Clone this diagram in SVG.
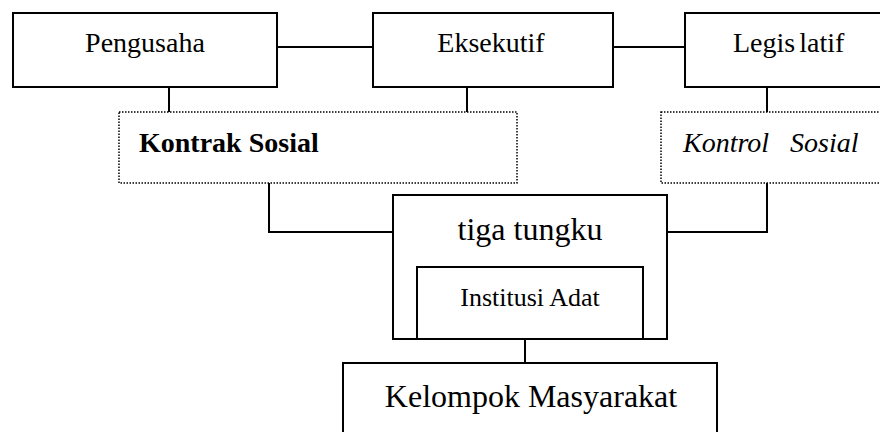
<svg xmlns="http://www.w3.org/2000/svg" width="880" height="432" viewBox="0 0 880 432">
<style>
.box{fill:#fff;stroke:#000;stroke-width:2}
.dot{fill:#fff;stroke:#000;stroke-width:1.5;stroke-dasharray:1.5 1.5}
.ln{fill:none;stroke:#000;stroke-width:2}
.tx{fill:#000;font-family:"Liberation Serif","Times New Roman",Times,serif}
.t28{font-size:28px}
</style>
<rect width="880" height="432" fill="#fff"/>
<g id="connectors">
<line class="ln" x1="277" y1="47" x2="373" y2="47"/>
<line class="ln" x1="613" y1="47" x2="685" y2="47"/>
<line class="ln" x1="169" y1="87" x2="169" y2="112"/>
<line class="ln" x1="467" y1="87" x2="467" y2="112"/>
<line class="ln" x1="767" y1="87" x2="767" y2="112"/>
<polyline class="ln" points="269,183 269,232 393,232"/>
<polyline class="ln" points="667,232 767,232 767,183"/>
<line class="ln" x1="525" y1="339" x2="525" y2="363"/>
</g>
<g id="pengusaha">
<rect class="box" x="13" y="13" width="264" height="74"/>
<text class="tx t28" x="145" y="52" text-anchor="middle">Pengusaha</text>
</g>
<g id="eksekutif">
<rect class="box" x="373" y="13" width="240" height="74"/>
<text class="tx t28" x="491" y="52" text-anchor="middle">Eksekutif</text>
</g>
<g id="legislatif">
<rect class="box" x="685" y="13" width="200" height="74"/>
<text class="tx t28" x="733" y="52" word-spacing="-3">Legis latif</text>
</g>
<g id="kontrak-sosial">
<rect class="dot" x="119" y="112" width="398" height="71"/>
<text class="tx t28" x="139" y="152" font-weight="bold">Kontrak Sosial</text>
</g>
<g id="kontrol-sosial">
<rect class="dot" x="661" y="112" width="225" height="71"/>
<text class="tx t28" x="683" y="152" font-style="italic" xml:space="preserve">Kontrol   Sosial</text>
</g>
<g id="tiga-tungku">
<rect class="box" x="393" y="195" width="274" height="144"/>
<text class="tx" x="530" y="240" font-size="32" text-anchor="middle">tiga tungku</text>
</g>
<g id="institusi-adat">
<rect class="box" x="417" y="267" width="226" height="72"/>
<text class="tx" x="530" y="306" font-size="26" text-anchor="middle">Institusi Adat</text>
</g>
<g id="kelompok-masyarakat">
<rect class="box" x="343" y="363" width="374" height="80"/>
<text class="tx" x="531" y="407" font-size="32" text-anchor="middle">Kelompok Masyarakat</text>
</g>
</svg>
